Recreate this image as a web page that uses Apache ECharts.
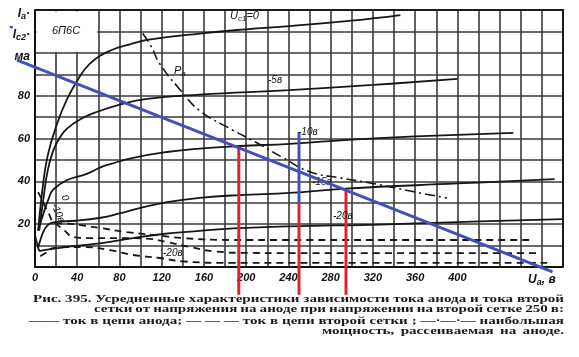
<!DOCTYPE html>
<html><head><meta charset="utf-8">
<script src="https://cdn.jsdelivr.net/npm/echarts@6/dist/echarts.min.js"></script>
<style>html,body{margin:0;padding:0;background:#fff}#c{width:579px;height:357px}</style>
</head><body><div id="c"></div>
<script>
// ---- tick labels ----
const xTickValues = [0,40,80,120,160,200,240,280,320,360,400];
const xNameTick = 480;
const yTickValues = [20,40,60,80];
const yUnitTicks = [100,110,120];
const yUnitLabels = ['{t|ма}','{t|I}{s|c2}{t|·}','{t|I}{s|а}{t|·}'];

// ---- anode current (solid), mA vs anode voltage V ----
const anodeUg0  = [[3,17],[7,36],[12,52],[21,67],[30,78],[40,87],[52,95],[71,101],[90,104],[106,106],[156,109],[200,111],[241,112.5],[300,115],[346,117.6]];
const anodeUg5  = [[4,17],[8,32],[12,45],[17,54],[23,60],[30,64.5],[43,69],[59,72.5],[78,75.5],[106,78.5],[156,80.5],[241,82.6],[320,85],[400,87.8]];
const anodeUg10 = [[3,17],[8,25],[13,32],[17,36],[30,40.5],[49,43.5],[62,46.5],[71,48],[93,51],[125,53.7],[156,55.3],[194,56.5],[241,57.5],[300,59.5],[360,61],[453,62.6]];
const anodeUg15 = [[3,9],[6,14],[9,17.5],[13,20],[19,21],[39,21.6],[62,23],[80,25],[99,27.5],[125,30.3],[156,32.3],[194,33.6],[241,34.6],[294,36.6],[400,39],[492,41]];
const anodeUg20 = [[0,15],[2,11],[5,7.5],[10,8],[29,9.3],[48,10.3],[71,11.7],[93,13.5],[121,15.4],[144,16.4],[188,18],[241,19],[327,19.8],[400,21],[500,22.4]];

// ---- second grid current (dashed) ----
const screenUg0  = [[3,35],[8,30],[13,25],[19,20.5],[30,20.3],[43,19.6],[62,18.2],[87,16.3],[112,15],[140,13.5],[187,12.6],[241,12.6],[350,12.6],[469,12.6]];
const screenUg10 = [[19,20.5],[28,17],[36,14],[49,13.5],[87,13.5],[105,13.3],[125,11.7],[147,9.3],[172,7.2],[200,6.6],[241,6.5],[478,6.5]];
const screenUg20 = [[5,5],[10,6.5],[17,8.8],[30,9.3],[45,9.3],[71,7.9],[93,5.6],[118,4.2],[140,2.6],[187,1.9],[241,1.9],[485,1.9]];

// ---- max anode dissipation (dash-dot) ----
const maxPower = [[102,109],[110,103],[118,95],[137,83],[156,73],[187,64],[210,58],[235,51],[260,44.5],[290,41.5],[320,39],[360,35],[390,32.2]];

// ---- hand-drawn overlays (data coordinates: V, mA) ----
const loadLine = [[-17,96.6],[490,-2.3]];
const blueDash = [[-24,112],[-21,112]];
const redVolts = [193,294.5];
const redTops = [56,36.4];
const swingVolt = 250;
const swingTop = 63;
const swingMid = 29.4;
const overlayBottom = -13;

// ---- texts ----
const captionTokens = [
  ['Рис.','395.','Усредненные','характеристики','зависимости','тока','анода','и','тока','второй'],
  ['сетки','от','напряжения','на','аноде','при','напряжении','на','второй','сетке','250','в:'],
  ['——','ток','в','цепи','анода;','— — —','ток','в','цепи','второй','сетки',';','—·—·—','наибольшая'],
  ['мощность,','рассеиваемая','на','аноде.']
];

const chart = echarts.init(document.getElementById('c'));
const BLACK = '#161616';
function solid(d){return {type:'line',data:d,symbol:'none',smooth:0.45,clip:false,silent:true,z:4,lineStyle:{color:BLACK,width:1.8}};}
function dashed(d){return {type:'line',data:d,symbol:'none',smooth:0.45,clip:false,silent:true,z:4,lineStyle:{color:BLACK,width:1.8,type:[7,5]}};}
function straight(d,color,w){return {type:'line',data:d,symbol:'none',clip:false,silent:true,z:10,lineStyle:{color:color,width:w}};}
const BLUE = '#4350b8', RED = '#dc2430';

const series = [
  solid(anodeUg0), solid(anodeUg5), solid(anodeUg10), solid(anodeUg15), solid(anodeUg20),
  dashed(screenUg0), dashed(screenUg10), dashed(screenUg20),
  {type:'line',data:maxPower,symbol:'none',smooth:0.45,clip:false,silent:true,z:4,lineStyle:{color:BLACK,width:1.6,type:[10,4,2,4]}},
  straight([[redVolts[0],redTops[0]],[redVolts[0],overlayBottom]],RED,3),
  straight([[redVolts[1],redTops[1]],[redVolts[1],overlayBottom]],RED,3),
  straight([[swingVolt,swingMid],[swingVolt,overlayBottom]],RED,3),
  straight([[swingVolt,swingTop],[swingVolt,swingMid]],BLUE,3)
];

const X_MIN=0, X_MAX=500, X_STEP=20, Y_MIN=0, Y_MAX=120, Y_STEP=10;
const labelFont = {fontFamily:'Liberation Sans',fontStyle:'italic',fontWeight:'bold',fontSize:11,color:'#111'};
chart.setOption({
  animation:false,
  backgroundColor:'#fff',
  grid:{left:35,right:16,top:10,bottom:90},
  xAxis:{type:'value',min:X_MIN,max:X_MAX,interval:X_STEP,
    axisLine:{show:true,onZero:false,lineStyle:{color:'#111',width:2}},
    axisTick:{show:false},
    splitLine:{show:true,lineStyle:{color:'#3a3a3a',width:1.6}},
    axisLabel:{margin:5,showMinLabel:true,showMaxLabel:true,...labelFont,
      rich:{u:{...labelFont,fontSize:12},s:{...labelFont,fontSize:9,padding:[6,0,0,0]}},
      formatter:v=>xTickValues.includes(v)?String(v):(v===xNameTick?'{u|U}{s|а}{u|, в}':'')}},
  yAxis:{type:'value',min:Y_MIN,max:Y_MAX,interval:Y_STEP,
    axisLine:{show:true,onZero:false,lineStyle:{color:'#111',width:2}},
    axisTick:{show:false},
    splitLine:{show:true,lineStyle:{color:'#3a3a3a',width:1.6}},
    axisLabel:{margin:5,showMinLabel:true,showMaxLabel:true,...labelFont,
      rich:{t:{...labelFont,fontSize:12,padding:[7,0,0,0]},s:{...labelFont,fontSize:9,padding:[13,0,0,0]}},
      formatter:v=>{if(yTickValues.includes(v))return String(v);const i=yUnitTicks.indexOf(v);return i>=0?yUnitLabels[i]:'';}}},
  series
});

const px = p => chart.convertToPixel({gridIndex:0},p);
const p1 = px([X_MIN,Y_MAX]), p2 = px([60,100]), pEnd = px([X_MAX,Y_MIN]);
const graphics = [];
const it = {fontFamily:'Liberation Sans',fontStyle:'italic',fontSize:10,fill:'#111'};
function txt(t,x,y,extra){return Object.assign({type:'text',x:x,y:y,z:20,style:Object.assign({text:t,align:'left',verticalAlign:'middle'},it)},extra||{});}
const richU = {i:{fontFamily:'Liberation Sans',fontStyle:'italic',fontSize:11},s:{fontFamily:'Liberation Sans',fontStyle:'italic',fontSize:8,padding:[5,0,0,0]}};
const la = px(loadLine[0]), lb = px(loadLine[1]), da = px(blueDash[0]), db = px(blueDash[1]);
graphics.push(
  // top and right frame edges
  {type:'polyline',z:3,silent:true,shape:{points:[[p1[0],p1[1]],[pEnd[0],p1[1]],[pEnd[0],pEnd[1]]]},style:{fill:'none',stroke:'#1a1a1a',lineWidth:2}},
  // blank box around the tube type label
  {type:'rect',z:3,silent:true,shape:{x:p1[0]+1.5,y:p1[1]+1.5,width:p2[0]-p1[0]-2.5,height:p2[1]-p1[1]-2.5},style:{fill:'#fff',stroke:'none'}},
  {type:'line',z:30,silent:true,shape:{x1:la[0],y1:la[1],x2:lb[0],y2:lb[1]},style:{stroke:BLUE,lineWidth:3}},
  {type:'line',z:30,silent:true,shape:{x1:da[0],y1:da[1],x2:db[0],y2:db[1]},style:{stroke:BLUE,lineWidth:2.5}},
  txt('6П6С',52,31,{style:Object.assign({},it,{text:'6П6С',fontSize:11,align:'left',verticalAlign:'middle'})}),
  {type:'text',x:230,y:16,z:20,style:{text:'{i|U}{s|c1}{i|=0}',rich:richU,align:'left',verticalAlign:'middle',fill:'#111'}},
  txt('-5в',268,80), txt('-10в',298,132), txt('-15в',312,182), txt('-20в',333,216), txt('-20в',163,253),
  {type:'text',x:174,y:71,z:20,style:{text:'{i|P}{s|a}',rich:richU,align:'left',verticalAlign:'middle',fill:'#111'}},
  txt('0',65,198,{rotation:-1.1,style:Object.assign({},it,{text:'0',align:'center',verticalAlign:'middle'})}),
  txt('-10в',58,213,{rotation:-1.15,style:Object.assign({},it,{text:'-10в',align:'center',verticalAlign:'middle'})})
);
// justified caption, horizontally stretched to fit the first line
const cv = document.createElement('canvas').getContext('2d');
const capFont = 'bold 11px "Liberation Serif"';
cv.font = capFont;
const sx = Math.min(1.6, 531/cv.measureText(captionTokens[0].join(' ')).width);
const capRows = [[33,564,299],[94,564,309],[29,564,321],[322,564,331]];
captionTokens.forEach((toks,r)=>{
  const [x0,x1,y] = capRows[r];
  const ws = toks.map(t=>cv.measureText(t).width*sx);
  const sum = ws.reduce((a,b)=>a+b,0);
  const gap = toks.length>1 ? (x1-x0-sum)/(toks.length-1) : 0;
  let x = x0;
  toks.forEach((t,i)=>{
    graphics.push({type:'text',x:x,y:y,scaleX:sx,z:20,style:{text:t,font:capFont,fill:'#1a1a1a',align:'left',verticalAlign:'middle'}});
    x += ws[i]+gap;
  });
});
chart.setOption({graphic:graphics});
</script></body></html>
